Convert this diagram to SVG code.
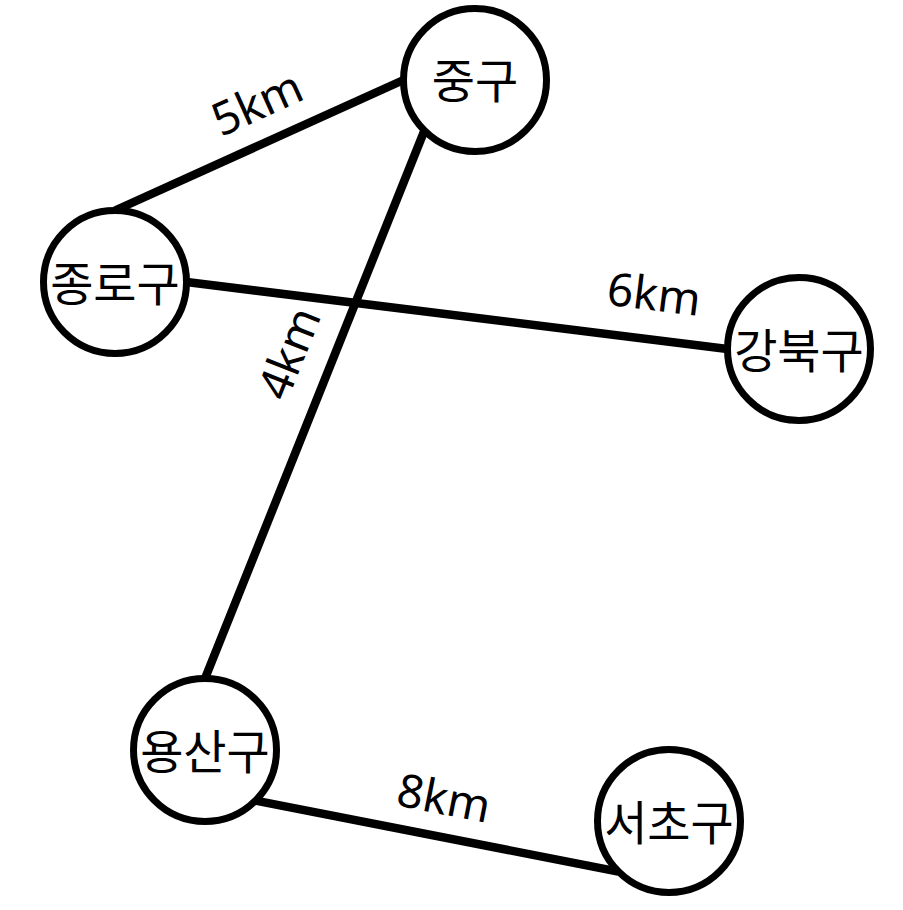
<svg xmlns="http://www.w3.org/2000/svg" width="903" height="910" viewBox="0 0 903 910">
<style>
.edge{stroke:#000;stroke-width:8.5;stroke-linecap:butt;fill:none}
.node circle{fill:#fff;stroke:#000;stroke-width:7}
.node text{font-family:"Noto Sans CJK KR","Noto Sans",sans-serif;font-size:47px;fill:#000;text-anchor:middle}
.lbl{font-family:"Noto Sans","Open Sans",sans-serif;font-size:46px;fill:#000;text-anchor:middle}
</style>
<rect width="903" height="910" fill="#fff"/>
<g id="edges">
<line class="edge" x1="115" y1="210.5" x2="403.5" y2="80"/>
<line class="edge" x1="186.5" y1="282" x2="727.5" y2="349"/>
<line class="edge" x1="424.4" y1="130.6" x2="205" y2="678.5"/>
<line class="edge" x1="255.6" y1="800.6" x2="618.4" y2="871.6"/>
<text class="lbl" transform="translate(257,103) rotate(-24.3)" y="16.4">5km</text>
<text class="lbl" transform="translate(654,294) rotate(7.06)" y="16.4">6km</text>
<text class="lbl" transform="translate(289,353) rotate(-68.2)" y="16.4">4km</text>
<text class="lbl" transform="translate(444,798) rotate(11.07)" y="16.4">8km</text>
</g>
<g id="n-junggu" class="node"><circle cx="475" cy="80" r="71.5"/><text x="475" y="98">중구</text></g>
<g id="n-jongno" class="node"><circle cx="115" cy="282" r="71.5"/><text x="115" y="300.5">종로구</text></g>
<g id="n-gangbuk" class="node"><circle cx="799" cy="349" r="71.5"/><text x="799" y="367.5">강북구</text></g>
<g id="n-yongsan" class="node"><circle cx="205" cy="750" r="71.5"/><text x="205" y="768.5">용산구</text></g>
<g id="n-seocho" class="node"><circle cx="669" cy="821" r="71.5"/><text x="669" y="839.5">서초구</text></g>
</svg>
